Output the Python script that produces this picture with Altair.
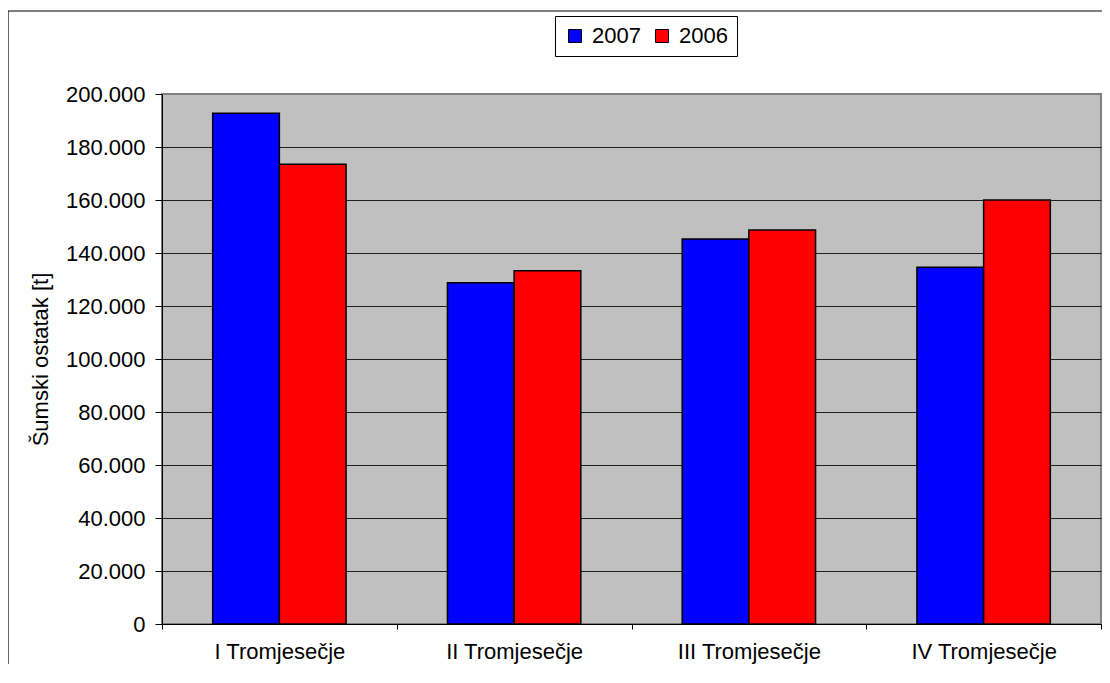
import altair as alt
import pandas as pd

categories = ["I Tromjesečje", "II Tromjesečje", "III Tromjesečje", "IV Tromjesečje"]
years = ["2007", "2006"]
values_2007 = [192700, 128800, 145300, 134600]
values_2006 = [173500, 133300, 148700, 160000]
y_ticks = [0, 20000, 40000, 60000, 80000, 100000, 120000, 140000, 160000, 180000, 200000]

rows = []
for c, a, b in zip(categories, values_2007, values_2006):
    rows.append({"cat": c, "year": "2007", "val": a})
    rows.append({"cat": c, "year": "2006", "val": b})
df = pd.DataFrame(rows)

FONT = "Liberation Sans"
FS = 22
LEFT = 154
W = 939

bars = alt.Chart(df).mark_bar(stroke="black", strokeWidth=1.5).encode(
    x=alt.X("cat:N", sort=categories,
            scale=alt.Scale(paddingInner=0, paddingOuter=0),
            axis=alt.Axis(title=None, labelAngle=0, tickBand="extent",
                          domainColor="black", tickColor="black", tickSize=5,
                          labelFontSize=FS, labelColor="black", labelFont=FONT,
                          labelPadding=12, grid=False)),
    xOffset=alt.XOffset("year:N", sort=years,
                        scale=alt.Scale(paddingInner=0, paddingOuter=0.76)),
    y=alt.Y("val:Q", scale=alt.Scale(domain=[0, 200000], nice=False),
            axis=alt.Axis(title="Šumski ostatak [t]", values=y_ticks,
                          labelExpr="replace(format(datum.value, ',d'), ',', '.')",
                          grid=True,
                          gridColor={"condition": {"test": "datum.value === 200000", "value": "#808080"}, "value": "#202020"},
                          gridWidth=1,
                          domainColor="black", tickColor="black", tickSize=7,
                          labelFontSize=FS, labelColor="black", labelFont=FONT,
                          labelPadding=10,
                          titleFontSize=FS, titleFont=FONT, titleColor="black",
                          titleFontWeight="normal", titlePadding=13)),
    color=alt.Color("year:N", sort=years,
                    scale=alt.Scale(domain=years, range=["#0000FF", "#FF0000"]),
                    legend=alt.Legend(title=None, orient="none", direction="horizontal",
                                      legendX=555 - 8 - LEFT, legendY=-78,
                                      symbolType="square", symbolSize=169,
                                      symbolStrokeColor="black", symbolStrokeWidth=1,
                                      labelFontSize=FS, labelFont=FONT, labelColor="black",
                                      labelOffset=6, columnPadding=10,
                                      strokeColor="black", padding=9,
                                      fillColor="white")),
)

frame = alt.Chart(alt.Data(values=[{"a": 1}])).mark_rect(
    fill=None, stroke="black", strokeWidth=1.2
).encode(
    x=alt.value(-LEFT), x2=alt.value(W + 20),
    y=alt.value(-83), y2=alt.value(600),
)

chart = alt.layer(frame, bars).properties(
    width=W, height=530,
    autosize=alt.AutoSizeParams(type="none"),
    padding={"left": LEFT, "top": 86, "right": 1, "bottom": 40},
    background="white",
).configure_view(
    fill="#C0C0C0", stroke="#808080", strokeWidth=2
)

chart.save("out.html", embed_options={"renderer": "svg", "actions": False})
